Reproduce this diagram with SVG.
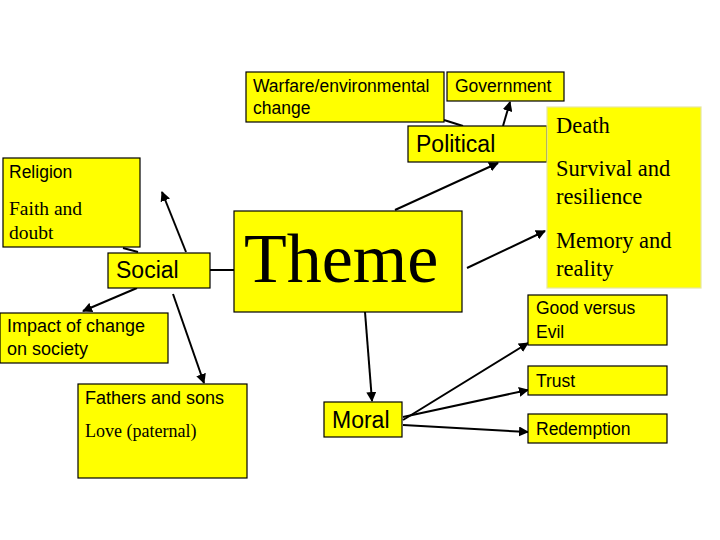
<svg xmlns="http://www.w3.org/2000/svg" width="720" height="540" viewBox="0 0 720 540">
<style>
.box{fill:#FFFF00;stroke:#000;stroke-width:1.2}
.pale{fill:#FFFF00;stroke:#E6E6A0;stroke-width:1.2}
.s{font-family:"Liberation Sans",Arial,sans-serif;fill:#000}
.r{font-family:"Liberation Serif","Times New Roman",serif;fill:#000}
.c line{stroke:#000;stroke-width:2}
</style>
<defs>
<marker id="ah" viewBox="0 0 10 10" refX="9" refY="5" markerWidth="5" markerHeight="5" orient="auto" markerUnits="strokeWidth">
<path d="M0,0 L10,5 L0,10 z" fill="#000"/>
</marker>
</defs>
<rect width="720" height="540" fill="#fff"/>
<g class="c" id="connectors">
<line x1="444" y1="120" x2="463" y2="126"/>
<line x1="503" y1="126" x2="510" y2="102" marker-end="url(#ah)"/>
<line x1="395" y1="210" x2="498" y2="163" marker-end="url(#ah)"/>
<line x1="467" y1="268" x2="545" y2="231" marker-end="url(#ah)"/>
<line x1="210" y1="270" x2="234" y2="270"/>
<line x1="123" y1="248" x2="138" y2="252"/>
<line x1="186" y1="252" x2="162" y2="192" marker-end="url(#ah)"/>
<line x1="137" y1="288" x2="83" y2="311" marker-end="url(#ah)"/>
<line x1="173" y1="294" x2="204" y2="383" marker-end="url(#ah)"/>
<line x1="365" y1="312" x2="372" y2="401" marker-end="url(#ah)"/>
<line x1="403" y1="420" x2="528" y2="343" marker-end="url(#ah)"/>
<line x1="403" y1="417" x2="528" y2="390" marker-end="url(#ah)"/>
<line x1="403" y1="425" x2="528" y2="432" marker-end="url(#ah)"/>
</g>
<g id="warfare">
<rect class="box" x="246" y="72" width="198" height="50"/>
<text class="s" x="253" y="92" font-size="17.5">Warfare/environmental</text>
<text class="s" x="253" y="114" font-size="17.5">change</text>
</g>
<g id="government">
<rect class="box" x="447" y="72" width="117" height="29"/>
<text class="s" x="455" y="92" font-size="17.5">Government</text>
</g>
<g id="political">
<rect class="box" x="408" y="126" width="139" height="36"/>
<text class="s" x="416" y="152" font-size="23">Political</text>
</g>
<g id="death">
<rect class="pale" x="547" y="107" width="154" height="181"/>
<text class="r" x="556" y="133" font-size="22.5">Death</text>
<text class="r" x="556" y="176" font-size="22.5">Survival and</text>
<text class="r" x="556" y="204" font-size="22.5">resilience</text>
<text class="r" x="556" y="248" font-size="22.5">Memory and</text>
<text class="r" x="556" y="276" font-size="22.5">reality</text>
</g>
<g id="theme">
<rect class="box" x="234" y="211" width="228" height="101"/>
<text class="r" x="244" y="282" font-size="70">Theme</text>
</g>
<g id="religion">
<rect class="box" x="3" y="158" width="137" height="89"/>
<text class="s" x="9" y="178" font-size="17.5">Religion</text>
<text class="r" x="9" y="215" font-size="19.5">Faith and</text>
<text class="r" x="9" y="239" font-size="19.5">doubt</text>
</g>
<g id="social">
<rect class="box" x="108" y="253" width="102" height="35"/>
<text class="s" x="116" y="278" font-size="23">Social</text>
</g>
<g id="impact">
<rect class="box" x="0" y="313" width="168" height="50"/>
<text class="s" x="7" y="332" font-size="18">Impact of change</text>
<text class="s" x="7" y="355" font-size="18">on society</text>
</g>
<g id="fathers">
<rect class="box" x="78" y="384" width="169" height="94"/>
<text class="s" x="85" y="404" font-size="18">Fathers and sons</text>
<text class="r" x="85" y="437" font-size="18">Love (paternal)</text>
</g>
<g id="moral">
<rect class="box" x="324" y="402" width="78" height="35"/>
<text class="s" x="332" y="428" font-size="23">Moral</text>
</g>
<g id="good">
<rect class="box" x="528" y="295" width="139" height="50"/>
<text class="s" x="536" y="314" font-size="17.5">Good versus</text>
<text class="s" x="536" y="338" font-size="17.5">Evil</text>
</g>
<g id="trust">
<rect class="box" x="528" y="366" width="139" height="29"/>
<text class="s" x="536" y="387" font-size="17.5">Trust</text>
</g>
<g id="redemption">
<rect class="box" x="528" y="414" width="139" height="29"/>
<text class="s" x="536" y="435" font-size="17.5">Redemption</text>
</g>
</svg>
